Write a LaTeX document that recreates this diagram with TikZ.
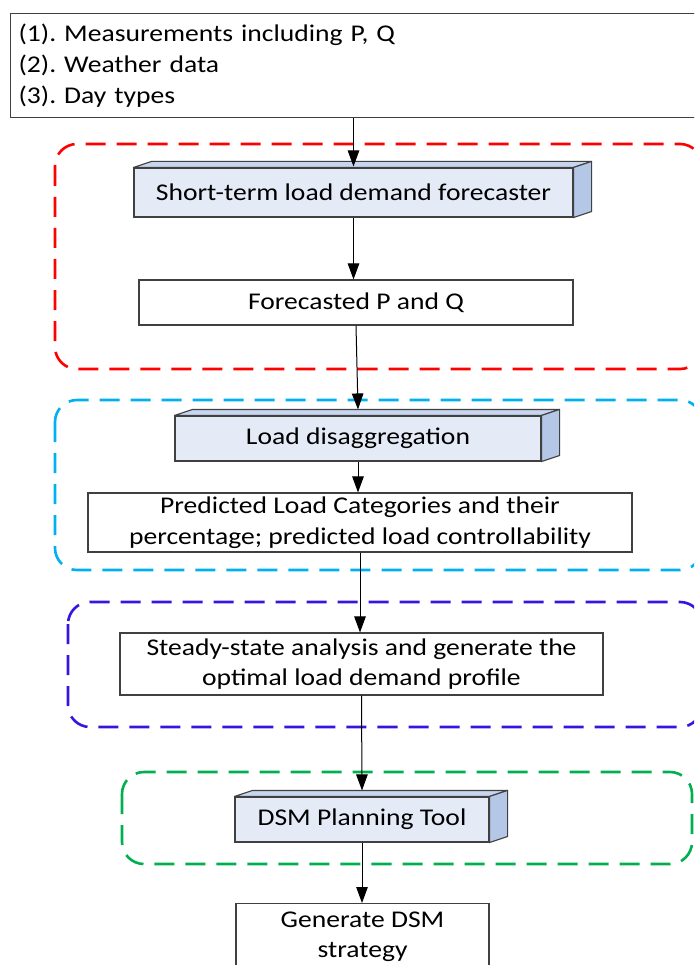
\documentclass[tikz,border=0pt]{standalone}
\usepackage{fontspec}
\setmainfont{Carlito}[FakeStretch=1.15]
\usetikzlibrary{arrows.meta}
\definecolor{cred}{RGB}{255,0,0}
\definecolor{ccyan}{RGB}{0,176,240}
\definecolor{cblue}{RGB}{56,20,224}
\definecolor{cgreen}{RGB}{0,176,80}
\definecolor{cfront}{RGB}{228,235,247}
\definecolor{ctop}{RGB}{200,213,238}
\definecolor{cside}{RGB}{180,199,231}
\definecolor{cedge}{RGB}{64,64,64}
\tikzset{
  plainbox/.style={draw=cedge, line width=1.1pt, fill=white, inner sep=0pt, align=center},
  cubebox/.style={draw=cedge, line width=1.1pt, fill=cfront, inner sep=0pt, align=center},
  cubeface/.style={draw=cedge, line width=1.1pt, line join=round},
  group/.style={line width=2.6pt, dash pattern=on 20pt off 11pt, rounded corners=22pt},
  flow/.style={draw=black, line width=1pt, -{Triangle[length=16pt,width=11.5pt]}}
}
\newcommand\cubefaces[1]{%
  \filldraw[cubeface, fill=ctop] (#1.north west) -- ++(18,-6) -- ([shift={(18,-6)}]#1.north east) -- (#1.north east) -- cycle;
  \filldraw[cubeface, fill=cside] (#1.north east) -- ++(18,-6) -- ([shift={(18,-6)}]#1.south east) -- (#1.south east) -- cycle;
}
\begin{document}
\frenchspacing
\begin{tikzpicture}[x=1pt, y=-1pt, font=\fontsize{24}{30.5}\selectfont]
\useasboundingbox (0,0) rectangle (694,965);
\clip (0,0) rectangle (694,965);
\fill[white] (0,0) rectangle (694,965);

% group frames
\draw[group, cred]   (55,144) rectangle (702,369);
\draw[group, ccyan]  (55,400) rectangle (702,570);
\draw[group, cblue]  (68,602) rectangle (702,727);
\draw[group, cgreen] (122,772) rectangle (692,864);

% input box
\node[plainbox, anchor=north west, minimum width=720, minimum height=104,
      text width=704, inner xsep=8pt, align=left, font=\fontsize{24}{31}\selectfont] (T) at (10,13)
  {(1). Measurements including P, Q\\(2). Weather data\\(3). Day types};

% nodes
\node[cubebox, minimum width=439, minimum height=49] (A) at (353.5,192.5) {Short-term load demand forecaster};
\cubefaces{A}
\node[plainbox, minimum width=434, minimum height=45] (F) at (356,302.5) {Forecasted P and Q};
\node[cubebox, minimum width=366, minimum height=45] (L) at (358,438.5) {Load disaggregation};
\cubefaces{L}
\node[plainbox, minimum width=544, minimum height=59] (P) at (360,522.5)
  {Predicted Load Categories and their\\percentage; predicted load controllability};
\node[plainbox, minimum width=483, minimum height=62] (S) at (361.5,664)
  {Steady-state analysis and generate the\\optimal load demand profile};
\node[cubebox, minimum width=254, minimum height=45] (D) at (362,819.5) {DSM Planning Tool};
\cubefaces{D}
\node[plainbox, anchor=north, minimum width=253, minimum height=66] (G) at (362.5,903)
  {Generate DSM\\strategy};

% connectors
\draw[flow] (A.north |- T.south) -- ([yshift=1pt]A.north);
\draw[flow] (A.south) -- (A.south |- F.north);
\draw[flow] (F.south) -- ([yshift=6pt]L.north);
\draw[flow] (L.south) -- (L.south |- P.north);
\draw[flow] (P.south) -- (P.south |- S.north);
\draw[flow] (S.south) -- ([yshift=6pt]D.north);
\draw[flow] (D.south) -- (D.south |- G.north);
\end{tikzpicture}
\end{document}
